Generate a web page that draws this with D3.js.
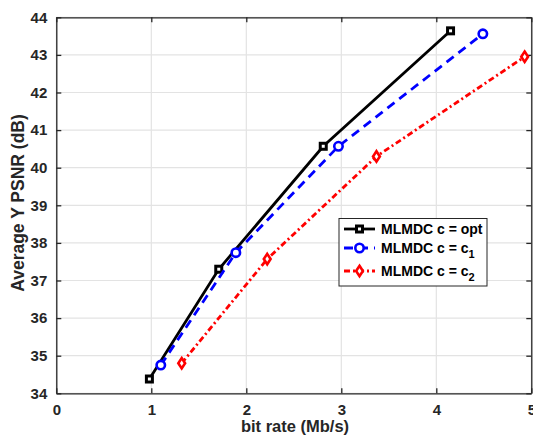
<!DOCTYPE html>
<html><head><meta charset="utf-8">
<script src="https://cdn.jsdelivr.net/npm/d3@7"></script>
<style>body{margin:0;background:#fff}svg{display:block}text{font-family:"Liberation Sans",Arial,sans-serif;font-weight:bold}</style>
</head><body><svg id="c" width="533" height="438"></svg>
<script>
const xOpt=[0.98,1.71,2.81,4.15];
const yOpt=[34.38,37.30,40.57,43.64];
const xC1=[1.10,1.89,2.97,4.49];
const yC1=[34.75,37.74,40.57,43.56];
const xC2=[1.32,2.22,3.37,4.93];
const yC2=[34.80,37.57,40.30,42.95];
const xTicks=[0,1,2,3,4,5];
const yTicks=[34,35,36,37,38,39,40,41,42,43,44];
const seriesNames=["opt","1","2"];

const svg=d3.select("#c");
const L=56.3,R=531.3,T=17.3,B=393.3;
const x=d3.scaleLinear().domain([0,5]).range([L,R]);
const y=d3.scaleLinear().domain([34,44]).range([B,T]);
const g=svg.append("g");
g.selectAll(".gx").data(xTicks).join("line").attr("x1",d=>x(d)).attr("x2",d=>x(d)).attr("y1",T).attr("y2",B).attr("stroke","#e3e3e3").attr("stroke-width",1.2);
g.selectAll(".gy").data(yTicks).join("line").attr("y1",d=>y(d)).attr("y2",d=>y(d)).attr("x1",L).attr("x2",R).attr("stroke","#e3e3e3").attr("stroke-width",1.2);
const tl=-5;
const axB=svg.append("g").attr("transform",`translate(0,${B})`).call(d3.axisBottom(x).tickValues(xTicks).tickFormat(d3.format("d")).tickSizeInner(tl).tickSizeOuter(0).tickPadding(12));
const axT=svg.append("g").attr("transform",`translate(0,${T})`).call(d3.axisTop(x).tickValues(xTicks).tickFormat("").tickSizeInner(tl).tickSizeOuter(0));
const axL=svg.append("g").attr("transform",`translate(${L},0)`).call(d3.axisLeft(y).tickValues(yTicks).tickFormat(d3.format("d")).tickSizeInner(tl).tickSizeOuter(0).tickPadding(9));
const axR=svg.append("g").attr("transform",`translate(${R},0)`).call(d3.axisRight(y).tickValues(yTicks).tickFormat("").tickSizeInner(tl).tickSizeOuter(0));
[axB,axT,axL,axR].forEach(a=>{a.selectAll("path,line").attr("stroke","#262626").attr("stroke-width",1.3);a.selectAll("text").attr("fill","#262626").style("font-size","15px").style("font-weight","bold");});
axB.selectAll("text").attr("dy","0.35em").attr("y",16);
svg.append("text").attr("x",295).attr("y",432).attr("text-anchor","middle").style("font-size","16.5px").attr("fill","#262626").text("bit rate (Mb/s)");
svg.append("text").attr("transform",`translate(24,203) rotate(-90)`).attr("text-anchor","middle").style("font-size","17.5px").attr("fill","#262626").text("Average Y PSNR (dB)");

const series=[
 {xs:xOpt,ys:yOpt,color:"#000",dash:null,m:"square"},
 {xs:xC1,ys:yC1,color:"#0000ff",dash:"9,6",m:"circle"},
 {xs:xC2,ys:yC2,color:"#ff0000",dash:"6,3,2,3",m:"diamond"}
];
const line=d3.line().x(d=>x(d[0])).y(d=>y(d[1]));
function marker(sel,type,color,cx,cy){
  if(type==="square") sel.append("rect").attr("x",cx-3).attr("y",cy-3).attr("width",6).attr("height",6).attr("fill","#fff").attr("stroke",color).attr("stroke-width",3);
  else if(type==="circle") sel.append("circle").attr("cx",cx).attr("cy",cy).attr("r",4.2).attr("fill","#fff").attr("stroke",color).attr("stroke-width",2.6);
  else sel.append("path").attr("d",`M${cx},${cy-5.2}L${cx+3.4},${cy}L${cx},${cy+5.2}L${cx-3.4},${cy}Z`).attr("fill","#fff").attr("stroke",color).attr("stroke-width",2.6);
}
series.forEach(s=>{
  const pts=s.xs.map((v,i)=>[v,s.ys[i]]);
  svg.append("path").datum(pts).attr("d",line).attr("fill","none").attr("stroke",s.color).attr("stroke-width",2.8).attr("stroke-dasharray",s.dash);
  pts.forEach(p=>marker(svg,s.m,s.color,x(p[0]),y(p[1])));
});
const lg=svg.append("g");
lg.append("rect").attr("x",339).attr("y",218.5).attr("width",148).attr("height",67.5).attr("fill","#fff").attr("stroke","#262626").attr("stroke-width",1);
const rows=[229,248,271];
series.forEach((s,i)=>{
  const ry=rows[i];
  lg.append("line").attr("x1",344).attr("x2",375).attr("y1",ry).attr("y2",ry).attr("stroke",s.color).attr("stroke-width",2.8).attr("stroke-dasharray",s.dash);
  marker(lg,s.m,s.color,359.5,ry);
  const t=lg.append("text").attr("x",381).attr("y",ry+5).style("font-size","14px").attr("fill","#000");
  if(i===0){t.text("MLMDC c = opt");}
  else{t.text("MLMDC c = c");t.append("tspan").attr("dy",5).style("font-size","11px").text(seriesNames[i]);}
});
</script></body></html>
